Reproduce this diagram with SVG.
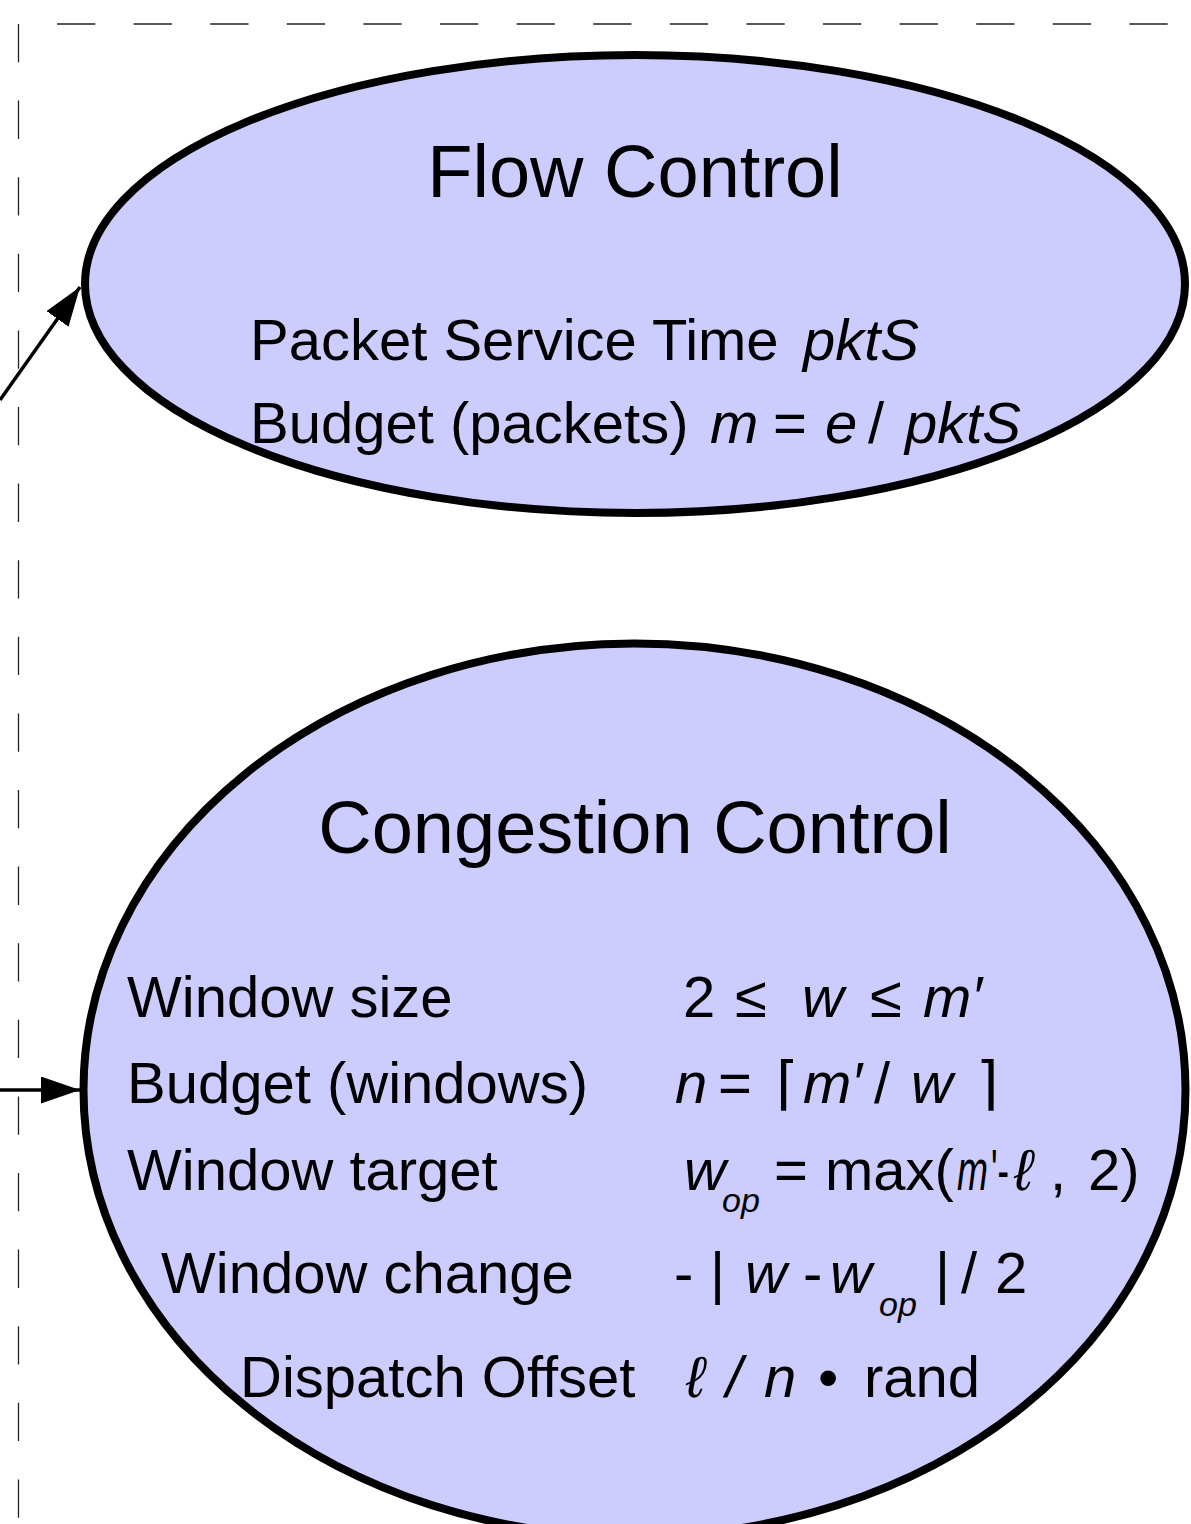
<svg xmlns="http://www.w3.org/2000/svg" width="1191" height="1524" viewBox="0 0 1191 1524">
  <style>
    .frame { stroke: #222; stroke-width: 1.3; stroke-dasharray: 38.3 38.3; fill: none; }
    .node { fill: #ccccff; stroke: #000; stroke-width: 8; }
    .edge { stroke: #000; stroke-width: 3.5; fill: none; }
    text { font-family: "Liberation Sans", Arial, Helvetica, sans-serif; fill: #000; }
    .title { font-size: 74px; text-anchor: middle; }
    .body { font-size: 58px; }
    .i { font-style: italic; }
    .sub { font-size: 34px; font-style: italic; }
  </style>
  <defs>
    <marker id="arrow" markerUnits="userSpaceOnUse" markerWidth="40" markerHeight="28" refX="39" refY="13.5" orient="auto">
      <path d="M0,0 L39,13.5 L0,27 z" fill="#000"/>
    </marker>
  </defs>

  <rect width="1191" height="1524" fill="#fff"/>

  <!-- dashed frame -->
  <g id="frame">
    <line class="frame" x1="57" y1="24" x2="1191" y2="24"/>
    <line class="frame" x1="18.5" y1="24" x2="18.5" y2="1524"/>
  </g>

  <!-- connectors -->
  <g id="edges">
    <line class="edge" x1="0" y1="400" x2="80" y2="287" marker-end="url(#arrow)"/>
    <line class="edge" x1="0" y1="1090" x2="80" y2="1090" marker-end="url(#arrow)"/>
  </g>

  <!-- Flow Control node -->
  <g id="flow-control">
    <ellipse class="node" cx="635" cy="284" rx="550" ry="229"/>
    <text class="title" x="635" y="197">Flow Control</text>
    <text class="body" x="250" y="360">Packet Service Time <tspan class="i" x="803">pktS</tspan></text>
    <text class="body" x="250" y="443">Budget (packets)<tspan class="i" x="710">m</tspan><tspan x="773">=</tspan><tspan class="i" x="825">e</tspan><tspan x="868">/</tspan><tspan class="i" x="905">pktS</tspan></text>
  </g>

  <!-- Congestion Control node -->
  <g id="congestion-control">
    <ellipse class="node" cx="634.5" cy="1090" rx="551" ry="446.5"/>
    <text class="title" x="635" y="853">Congestion Control</text>

    <text class="body" x="127" y="1017">Window size</text>
    <text class="body" y="1017"><tspan x="683">2</tspan><tspan x="735">≤</tspan><tspan class="i" x="802">w</tspan><tspan x="870">≤</tspan><tspan class="i" x="923">m′</tspan></text>

    <text class="body" x="127" y="1103">Budget (windows)</text>
    <text class="body" y="1103"><tspan class="i" x="675">n</tspan><tspan x="718">=</tspan><tspan x="776">⌈</tspan><tspan class="i" x="803">m′</tspan><tspan x="874">/</tspan><tspan class="i" x="911">w</tspan><tspan x="976">⌉</tspan></text>

    <text class="body" x="127" y="1190">Window target</text>
    <text class="body" y="1190"><tspan x="684" class="i">w</tspan><tspan x="774">=</tspan><tspan x="825">max(</tspan><tspan class="i" x="957" textLength="31" lengthAdjust="spacingAndGlyphs">m</tspan><tspan x="991" textLength="18" lengthAdjust="spacingAndGlyphs">'-</tspan><tspan class="i" x="1014">ℓ</tspan><tspan x="1050">,</tspan><tspan x="1088">2)</tspan></text>
    <text class="sub" x="722" y="1212">op</text>

    <text class="body" x="161" y="1293">Window change</text>
    <text class="body" y="1293"><tspan x="674">-</tspan><tspan x="710">|</tspan><tspan class="i" x="745">w</tspan><tspan x="803">-</tspan><tspan class="i" x="830">w</tspan><tspan x="935">|</tspan><tspan x="961">/</tspan><tspan x="995">2</tspan></text>
    <text class="sub" x="879" y="1316">op</text>

    <text class="body" x="240" y="1397">Dispatch Offset</text>
    <text class="body" y="1397"><tspan class="i" x="686">ℓ</tspan><tspan class="i" x="726">/</tspan><tspan class="i" x="764">n</tspan><tspan x="818">•</tspan><tspan x="864">rand</tspan></text>
  </g>
</svg>
